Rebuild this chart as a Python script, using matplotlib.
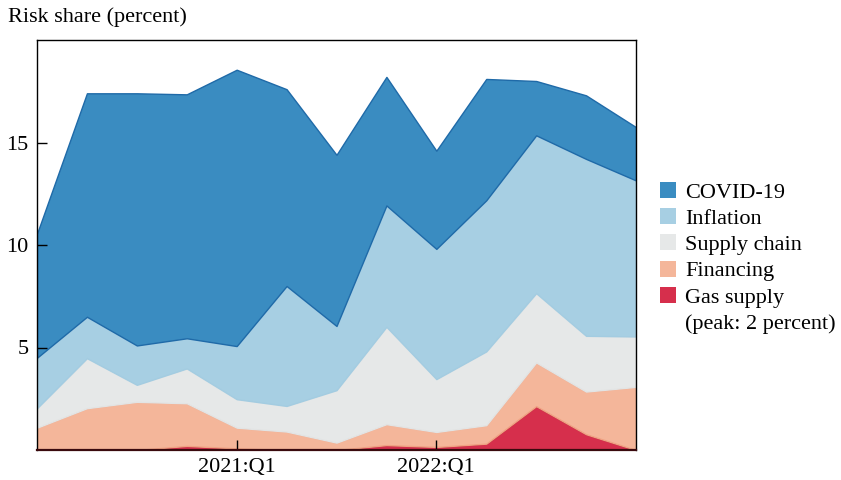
import matplotlib
matplotlib.use("Agg")
import matplotlib.pyplot as plt
from matplotlib.patches import Patch
import numpy as np

plt.rcParams['font.family'] = ['Liberation Serif', 'DejaVu Serif']

quarters = ["2020:Q1", "2020:Q2", "2020:Q3", "2020:Q4",
            "2021:Q1", "2021:Q2", "2021:Q3", "2021:Q4",
            "2022:Q1", "2022:Q2", "2022:Q3", "2022:Q4", "2023:Q1"]
gas_supply = [0.0, 0.0, 0.0, 0.20, 0.08, 0.0, 0.0, 0.24, 0.15, 0.31, 2.14, 0.77, 0.0]
financing = [1.09, 2.04, 2.35, 2.08, 1.01, 0.90, 0.36, 1.02, 0.73, 0.90, 2.13, 2.08, 3.08]
supply_chain = [0.95, 2.44, 0.83, 1.70, 1.39, 1.25, 2.56, 4.75, 2.58, 3.60, 3.38, 2.72, 2.46]
inflation = [2.46, 2.02, 1.92, 1.47, 2.59, 5.85, 3.13, 5.92, 6.35, 7.37, 7.70, 8.63, 7.61]
covid = [6.05, 10.9, 12.3, 11.9, 13.48, 9.6, 8.35, 6.27, 4.79, 5.92, 2.65, 3.1, 2.6]

labels = ["Gas supply", "Financing", "Supply chain", "Inflation", "COVID-19"]
gas_note = "(peak: 2 percent)"
fills = ["#d62f4c", "#f4b69a", "#e6e8e8", "#a7cfe3", "#3a8cc1"]
edges = ["#a8162e", "#f0a283", "#e2e4e4", "#a3cce1", "#1f6aa8"]
xtick_labels = ["2021:Q1", "2022:Q1"]
ytick_values = [5, 10, 15]

FS = 16

fig = plt.figure(figsize=(8.41, 4.80), dpi=100)
ax = fig.add_axes([37/841, 1-450/480, (636-37)/841, (450-40)/480])

x = np.arange(len(quarters))
polys = ax.stackplot(x, gas_supply, financing, supply_chain, inflation, covid,
                     colors=fills)
for p, ec in zip(polys, edges):
    p.set_edgecolor(ec)
    p.set_linewidth(1.0)

ax.set_xlim(0, len(quarters) - 1)
ax.set_ylim(0, 20)
ax.set_yticks(ytick_values)
ax.set_yticklabels([str(v) for v in ytick_values])
ax.set_xticks([quarters.index(q) for q in xtick_labels])
ax.set_xticklabels(xtick_labels)
ax.tick_params(axis='both', direction='in', length=7, width=1.0, labelsize=FS, colors='black')
ax.tick_params(axis='y', pad=6)
ax.tick_params(axis='x', pad=6)
for s in ax.spines.values():
    s.set_linewidth(1.0)
    s.set_color('black')
    s.set_zorder(5)
ax.spines['bottom'].set_color('#3a0a0e')
ax.spines['bottom'].set_linewidth(1.6)

fig.text(8/841, 1-17/480, "Risk share (percent)", fontsize=FS, va='center', ha='left')

handles = [Patch(facecolor=c, edgecolor='none') for c in fills][::-1]
leg_labels = labels[::-1]
handles.append(Patch(facecolor='none', edgecolor='none'))
leg_labels.append(gas_note)
fig.legend(handles, leg_labels, loc='upper left',
           bbox_to_anchor=(660/841, 1-182/480), frameon=False, fontsize=FS,
           handlelength=0.72, handleheight=0.72, handletextpad=0.4,
           labelspacing=0.25, borderpad=0, borderaxespad=0)

fig.savefig("out.png", dpi=100)
